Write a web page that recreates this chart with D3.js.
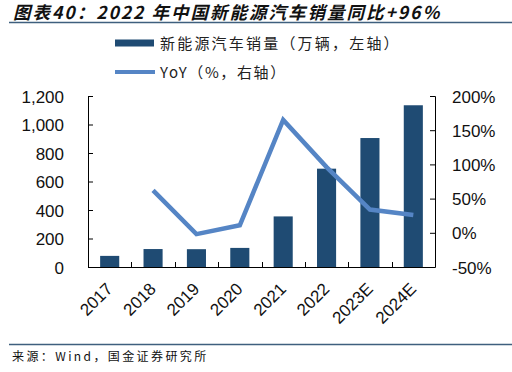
<!DOCTYPE html>
<html><head><meta charset="utf-8">
<script src="https://cdn.jsdelivr.net/npm/d3@7"></script>
<style>
html,body{margin:0;padding:0;background:#fff;}
svg{display:block;}
</style></head>
<body><svg id="c" width="512" height="372"></svg>
<script>
const categories = ["2017","2018","2019","2020","2021","2022","2023E","2024E"];
const salesValues = [78, 126, 125, 134, 355, 690, 905, 1135];
const yoyValues = [null, 62, -2, 11, 165, 96, 34, 26];
const leftTicks = [0, 200, 400, 600, 800, 1000, 1200];
const rightTicks = [-50, 0, 50, 100, 150, 200];

const svg = d3.select("#c");
const L = 88, R = 435, T = 96, B = 267;
const barColor = "#1F4B73", lineColor = "#5585C5";
const font = "'Liberation Sans', Arial, sans-serif";
const cjk = "'Noto Sans CJK SC', sans-serif";

// title
svg.append("text").attr("x", 13).attr("y", 18.5)
  .attr("font-family", cjk).attr("font-size", 17.5).attr("font-weight", "bold")
  .attr("font-style", "italic").attr("fill", "#111").attr("letter-spacing", 2)
  .text("图表40：2022 年中国新能源汽车销量同比+96%");
svg.append("line").attr("x1", 9).attr("x2", 512).attr("y1", 22.5).attr("y2", 22.5)
  .attr("stroke", "#3E5F7E").attr("stroke-width", 1.5);

// footer
svg.append("line").attr("x1", 9).attr("x2", 512).attr("y1", 344.5).attr("y2", 344.5)
  .attr("stroke", "#3E5F7E").attr("stroke-width", 1.5);
svg.append("text").attr("x", 12).attr("y", 360.5)
  .attr("font-family", cjk).attr("font-size", 12).attr("fill", "#111")
  .attr("letter-spacing", 2.4)
  .text("来源：Wind，国金证券研究所");

// legend
svg.append("rect").attr("x", 115).attr("y", 39.5).attr("width", 39).attr("height", 7).attr("fill", barColor);
svg.append("text").attr("x", 160).attr("y", 48.5).attr("font-family", cjk).attr("font-size", 15)
  .attr("letter-spacing", 2.2).attr("fill", "#222").text("新能源汽车销量（万辆，左轴）");
svg.append("line").attr("x1", 115).attr("x2", 155).attr("y1", 72).attr("y2", 72)
  .attr("stroke", lineColor).attr("stroke-width", 4);
svg.append("text").attr("x", 160).attr("y", 78).attr("font-family", cjk).attr("font-size", 15)
  .attr("letter-spacing", 1.6).attr("fill", "#222").text("YoY（%，右轴）");

// scales
const x = d3.scaleBand().domain(categories).range([L, R]).paddingInner(0.56).paddingOuter(0.28);
const xb = d3.scaleBand().domain(categories).range([L, R]);
const yL = d3.scaleLinear().domain([0, 1200]).range([B, T]);
const yR = d3.scaleLinear().domain([-50, 200]).range([B, T]);

// bars
svg.append("g").selectAll("rect").data(categories).join("rect")
  .attr("x", d => x(d)).attr("width", x.bandwidth())
  .attr("y", (d,i) => yL(salesValues[i])).attr("height", (d,i) => B - yL(salesValues[i]))
  .attr("fill", barColor);

// line
const pts = categories.map((c,i) => ({c, v: yoyValues[i]})).filter(p => p.v !== null);
svg.append("path").datum(pts)
  .attr("d", d3.line().x(p => xb(p.c) + xb.bandwidth()/2).y(p => yR(p.v)))
  .attr("fill", "none").attr("stroke", lineColor).attr("stroke-width", 4.5)
  .attr("stroke-linejoin", "miter");

// left axis
const gl = svg.append("g").attr("transform", `translate(${L},0)`)
  .call(d3.axisLeft(yL).tickValues(leftTicks).tickSizeInner(-5).tickSizeOuter(-5).tickPadding(24)
    .tickFormat(d3.format(",")));
// right axis
const gr = svg.append("g").attr("transform", `translate(${R},0)`)
  .call(d3.axisRight(yR).tickValues(rightTicks).tickSizeInner(-5).tickSizeOuter(-5).tickPadding(17)
    .tickFormat(d => d + "%"));
[gl, gr].forEach(g => {
  g.selectAll("text").attr("font-family", font).attr("font-size", 17).attr("fill", "#111");
  g.selectAll("line,path").attr("stroke", "#000").attr("stroke-width", 1);
});
gl.selectAll("text").attr("dy", "0.36em");
gr.selectAll("text").attr("dy", "0.36em");

// x axis
svg.append("line").attr("x1", L).attr("x2", R).attr("y1", B + 0.5).attr("y2", B + 0.5)
  .attr("stroke", "#000");
svg.append("g").selectAll("line").data(categories.slice(1)).join("line")
  .attr("x1", d => Math.round(xb(d)) + 0.5).attr("x2", d => Math.round(xb(d)) + 0.5)
  .attr("y1", B).attr("y2", B - 5).attr("stroke", "#000");
svg.append("g").selectAll("text").data(categories).join("text")
  .attr("transform", d => `translate(${xb(d) + xb.bandwidth()/2 + 4},${B + 23}) rotate(-45)`)
  .attr("text-anchor", "end").attr("font-family", font).attr("font-size", 17).attr("fill", "#111")
  .text(d => d);
</script></body></html>
